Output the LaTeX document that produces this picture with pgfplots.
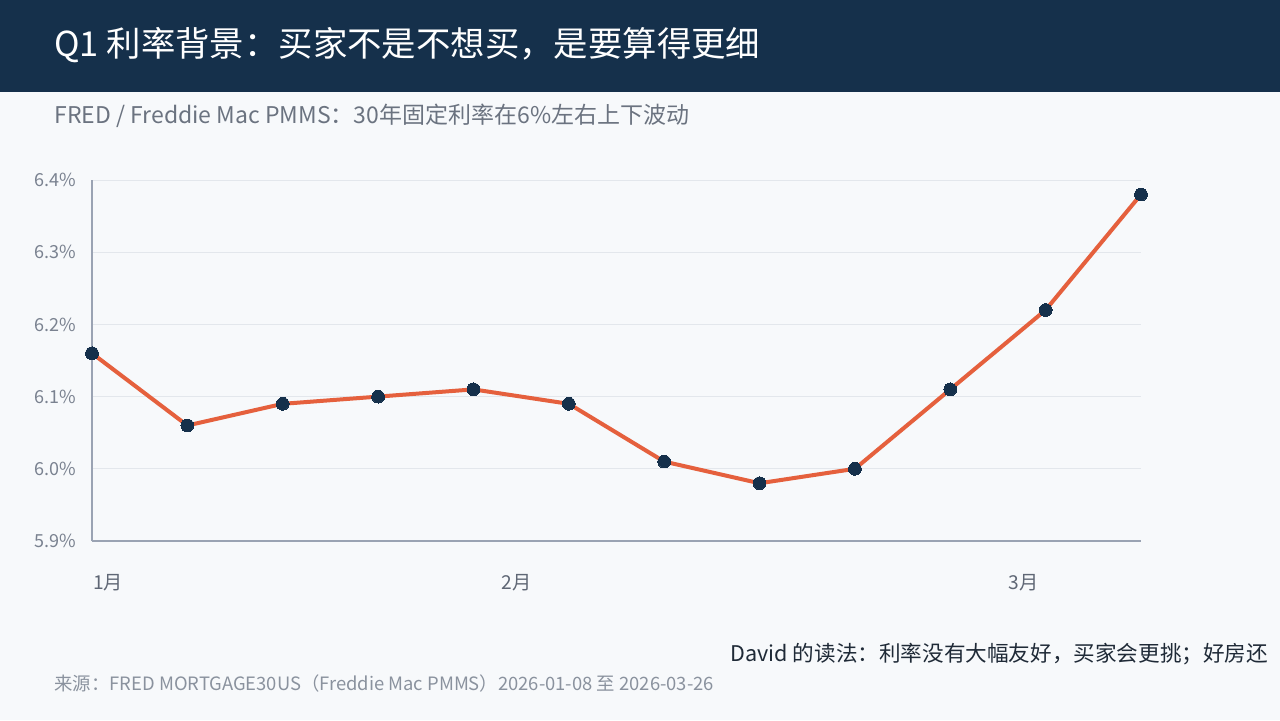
\documentclass[border=0pt]{standalone}
\usepackage{pgfplots}
\pgfplotsset{compat=1.18}
\usepackage{fontspec}
\setmainfont{Noto Sans CJK SC}
\definecolor{hdr}{HTML}{15304B}
\definecolor{bg}{HTML}{F7F9FB}
\definecolor{subg}{HTML}{6B7380}
\definecolor{tickg}{HTML}{7A8290}
\definecolor{xtickg}{HTML}{5F6775}
\definecolor{axg}{HTML}{9AA3B3}
\definecolor{gridg}{HTML}{E3E7EC}
\definecolor{lineo}{HTML}{E5603D}
\definecolor{mk}{HTML}{15304B}
\definecolor{dark}{HTML}{1F2A37}
\definecolor{srcg}{HTML}{8A929E}
\begin{document}
\begin{tikzpicture}[x=0.5pt,y=0.5pt]
\clip (0,0) rectangle (1280,720);
\fill[bg] (0,0) rectangle (1280,720);
\fill[hdr] (0,720) rectangle (1280,628);
\node[anchor=west,text=white,font=\fontsize{17.2pt}{20pt}\selectfont,inner sep=0] at (54,675) {Q1 利率背景：买家不是不想买，是要算得更细};
\node[anchor=west,text=subg,font=\fontsize{11.5pt}{13pt}\selectfont,inner sep=0] at (54,604) {FRED / Freddie Mac PMMS：30年固定利率在6\%左右上下波动};
\node[anchor=west,text=dark,font=\fontsize{10.8pt}{13pt}\selectfont,inner sep=0] at (730,66) {David 的读法：利率没有大幅友好，买家会更挑；好房还};
\node[anchor=west,text=srcg,font=\fontsize{9.2pt}{10pt}\selectfont,inner sep=0] at (54,37) {来源：FRED MORTGAGE30US（Freddie Mac PMMS）2026-01-08 至 2026-03-26};
\begin{axis}[
  at={(46pt,89.5pt)}, anchor=south west,
  scale only axis, width=524.5pt, height=180.5pt,
  xmin=0, xmax=11, ymin=5.9, ymax=6.4,
  clip=false,
  axis x line*=bottom, axis y line*=left,
  axis line style={axg, line width=0.8pt},
  ytick={5.9,6.0,6.1,6.2,6.3,6.4},
  yticklabel={\pgfmathprintnumber[fixed,precision=1,fixed zerofill]{\tick}\%},
  /pgf/number format/assume math mode=true,
  yticklabel style={anchor=east, inner sep=0pt, xshift=-8pt, text=tickg, font=\fontsize{9pt}{10pt}\selectfont},
  xtick={0.17,4.45,9.77},
  xticklabels={1月,2月,3月},
  xticklabel style={anchor=center, inner sep=0pt, yshift=-21pt, text=xtickg, font=\fontsize{9.6pt}{11pt}\selectfont},
  major tick length=0pt,
  ymajorgrids, grid style={gridg, line width=0.5pt},
]
\addplot[lineo, line width=2pt, mark=*, mark size=3.2pt, mark options={fill=mk, draw=mk, line width=0pt}]
coordinates {(0,6.16)(1,6.06)(2,6.09)(3,6.10)(4,6.11)(5,6.09)(6,6.01)(7,5.98)(8,6.00)(9,6.11)(10,6.22)(11,6.38)};
\end{axis}
\end{tikzpicture}
\end{document}
